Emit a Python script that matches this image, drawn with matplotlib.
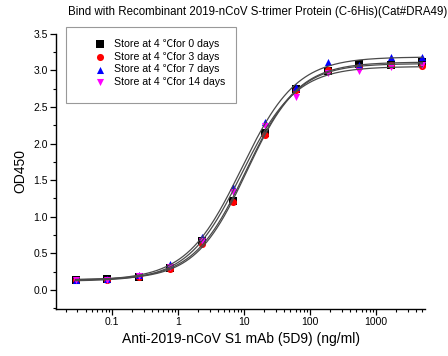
import numpy as np
import matplotlib
matplotlib.use('Agg')
import matplotlib.pyplot as plt
from matplotlib.patches import Rectangle
from matplotlib.ticker import LogLocator, MultipleLocator

plt.rcParams['font.family'] = ['Liberation Sans', 'Noto Sans CJK SC', 'DejaVu Sans']

# antibody concentration (ng/ml), 3-fold dilution series
conc = [0.0282, 0.0847, 0.254, 0.762, 2.286, 6.859, 20.58, 61.73, 185.2, 555.6, 1666.7, 5000]

od_day0 = [0.13, 0.15, 0.18, 0.30, 0.67, 1.22, 2.15, 2.75, 2.99, 3.09, 3.07, 3.11]
od_day3 = [0.13, 0.14, 0.18, 0.29, 0.63, 1.20, 2.12, 2.73, 3.01, 3.05, 3.08, 3.06]
od_day7 = [0.14, 0.15, 0.20, 0.35, 0.73, 1.41, 2.30, 2.78, 3.11, 3.08, 3.19, 3.19]
od_day14 = [0.13, 0.14, 0.19, 0.31, 0.67, 1.34, 2.24, 2.64, 2.97, 2.99, 3.04, 3.08]

labels = ['Store at 4 \u2103for 0 days', 'Store at 4 \u2103for 3 days',
          'Store at 4 \u2103for 7 days', 'Store at 4 \u2103for 14 days']
colors = ['black', 'red', 'blue', 'magenta']
markers = ['s', 'o', '^', 'v']


def four_pl(p, x):
    bottom, top, logec, hill = p
    return bottom + (top - bottom) / (1 + 10 ** ((logec - np.log10(x)) * hill))


def fit_4pl(x, y):
    # small Levenberg-Marquardt fit, no scipy needed
    x = np.asarray(x, float)
    y = np.asarray(y, float)
    p = np.array([y.min(), y.max(), 1.0, 1.0])
    lam = 1e-2
    for it in range(300):
        r = y - four_pl(p, x)
        J = np.zeros((len(x), 4))
        for k in range(4):
            dp = np.zeros(4)
            dp[k] = 1e-6
            J[:, k] = (four_pl(p + dp, x) - four_pl(p - dp, x)) / 2e-6
        A = J.T @ J
        step = np.linalg.solve(A + lam * np.diag(np.diag(A)), J.T @ r)
        p_new = p + step
        if np.sum((y - four_pl(p_new, x)) ** 2) < np.sum(r ** 2):
            p = p_new
            lam *= 0.5
        else:
            lam *= 5
    return p


fig = plt.figure(figsize=(4.48, 3.56), dpi=100)
ax = fig.add_axes([0.125, 0.132, 0.824, 0.773])

xs = np.logspace(np.log10(conc[0]), np.log10(conc[-1]), 300)
for od in [od_day0, od_day3, od_day7, od_day14]:
    p = fit_4pl(conc, od)
    ax.plot(xs, four_pl(p, xs), color='#4a4a4a', lw=0.9, zorder=3)

for od, lab, c, m in zip([od_day0, od_day3, od_day7, od_day14], labels, colors, markers):
    ax.scatter(conc, od, s=26, marker=m, color=c, label=lab, zorder=2, linewidths=0)

ax.set_xscale('log')
ax.set_xlim(0.0142, 5500)
ax.set_ylim(-0.26, 3.5)
ax.set_xticks([0.1, 1, 10, 100, 1000])
ax.set_xticklabels(['0.1', '1', '10', '100', '1000'])
ax.xaxis.set_minor_locator(LogLocator(base=10, subs=np.arange(2, 10), numticks=20))
ax.xaxis.set_minor_formatter(plt.NullFormatter())
ax.set_yticks(np.arange(0, 3.51, 0.5))
ax.set_yticklabels(['%.1f' % v for v in np.arange(0, 3.51, 0.5)])
ax.yaxis.set_minor_locator(MultipleLocator(0.25))

for s in ['top', 'right']:
    ax.spines[s].set_visible(False)
for s in ['left', 'bottom']:
    ax.spines[s].set_linewidth(1.0)
ax.tick_params(which='major', direction='out', length=4, width=0.9, labelsize=7.5, pad=2)
ax.tick_params(which='minor', direction='out', length=2, width=0.8)

ax.set_xlabel('Anti-2019-nCoV S1 mAb (5D9) (ng/ml)', fontsize=10, labelpad=3)
ax.set_ylabel('OD450', fontsize=10, labelpad=4)
fig.text(0.152, 0.965, 'Bind with Recombinant 2019-nCoV S-trimer Protein (C-6His)(Cat#DRA49)',
         fontsize=8.3, ha='left', va='center')

# legend box drawn separately (uneven padding in the original)
fig.patches.append(Rectangle((66 / 448, 1 - 103 / 356), 170 / 448, 76 / 356,
                             transform=fig.transFigure, fill=False,
                             edgecolor='#999999', lw=0.8))
leg = ax.legend(loc='upper left', bbox_to_anchor=(86 / 448, 1 - 33.5 / 356),
                bbox_transform=fig.transFigure, fontsize=7.6, frameon=False,
                borderpad=0, handletextpad=0.6, labelspacing=0.25, handlelength=1.6)

fig.savefig('out.png', dpi=100)
